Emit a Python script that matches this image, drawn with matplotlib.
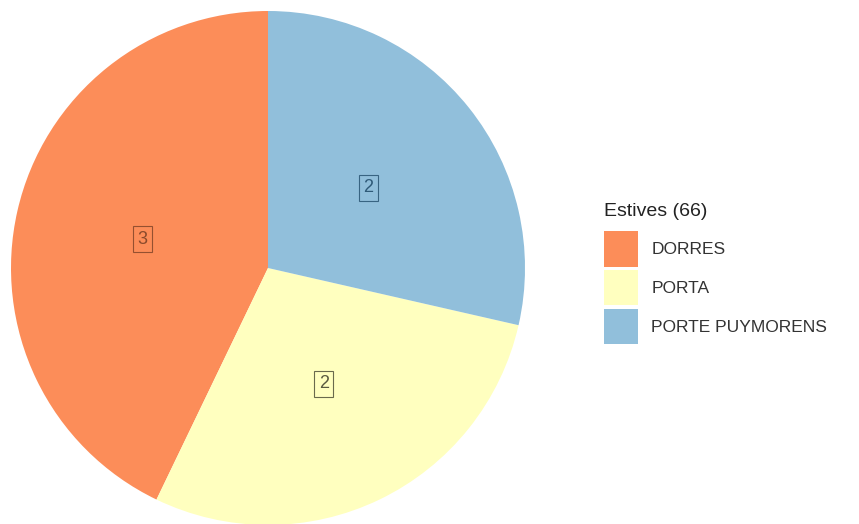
import matplotlib.pyplot as plt
from matplotlib.patches import Patch

plt.rcParams['font.family'] = ['Liberation Sans', 'DejaVu Sans']

# data
categories = ['DORRES', 'PORTA', 'PORTE PUYMORENS']
counts = [3, 2, 2]
colors = ['#FC8D59', '#FFFFBF', '#91BFDB']
label_text = ['#8a4a2c', '#5a5a40', '#2f5a78']
legend_title = 'Estives (66)'

fig = plt.figure(figsize=(8.59, 5.24), dpi=100)
ax = fig.add_axes([11 / 859, -1 / 524, 514 / 859, 514 / 524])

wedges, texts = ax.pie(counts, colors=colors, startangle=90, counterclock=True,
                       labels=[str(c) for c in counts], labeldistance=0.5,
                       wedgeprops=dict(linewidth=0))
for t, c, tc in zip(texts, colors, label_text):
    t.set_fontsize(13)
    t.set_color(tc)
    t.set_ha('center')
    t.set_va('center')
    t.set_bbox(dict(boxstyle='square,pad=0.25', facecolor=c, edgecolor=tc,
                    linewidth=0.8, alpha=0.9))
ax.set_xlim(-1, 1)
ax.set_ylim(-1, 1)
ax.set_aspect('equal')

# legend
handles = [Patch(facecolor=c, edgecolor='none') for c in colors]
leg = fig.legend(handles, categories, title=legend_title, loc='upper left',
                 bbox_to_anchor=(588 / 859, 1 - 187 / 524), frameon=False,
                 fontsize=12.5, title_fontsize=14, handlelength=2.0,
                 handleheight=2.75, labelspacing=0.2, handletextpad=0.75)
leg._legend_box.align = 'left'
leg._legend_box.sep = 8.5
for t in leg.get_texts():
    t.set_color('#333333')
leg.get_title().set_color('#222222')

plt.savefig('out.png', dpi=100)
